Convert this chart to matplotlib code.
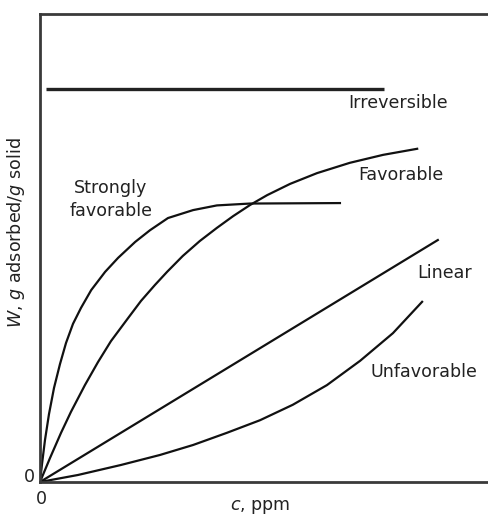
import matplotlib.pyplot as plt

# isotherm shapes, c in arbitrary ppm units, W in arbitrary loading units
irrev_c = [1.3, 76.6]
irrev_w = [84.0, 84.0]

strong_c = [0, 0.45, 1.11, 2.00, 3.12, 4.45, 5.79, 7.35, 9.13, 11.4, 14.5, 17.4,
            21.2, 24.5, 28.5, 34.1, 39.4, 46.8, 66.8]
strong_w = [0, 3.85, 8.97, 14.5, 20.1, 25.2, 29.7, 33.8, 37.2, 41.0, 44.9, 47.9,
            51.3, 53.8, 56.4, 58.1, 59.1, 59.5, 59.6]

fav_c = [0, 2.23, 4.68, 6.90, 10.0, 12.9, 15.8, 19.6, 22.5, 25.6, 28.3, 31.8,
         35.6, 39.4, 43.0, 46.8, 50.6, 55.7, 61.7, 69.0, 76.4, 84.0]
fav_w = [0, 5.13, 10.5, 15.0, 20.7, 25.6, 30.1, 35.0, 38.7, 42.1, 44.9, 48.3,
         51.5, 54.3, 56.8, 59.2, 61.3, 63.7, 66.0, 68.2, 69.9, 71.2]

lin_c = [0, 88.6]
lin_w = [0, 51.7]

unfav_c = [0, 8.46, 18.0, 26.7, 34.1, 41.6, 49.0, 56.3, 63.9, 71.3, 78.6, 85.1]
unfav_w = [0, 1.50, 3.63, 5.77, 7.91, 10.5, 13.2, 16.5, 20.7, 25.9, 31.8, 38.5]

plt.rcParams["font.family"] = "DejaVu Sans"

fig = plt.figure(figsize=(4.89, 5.18), dpi=100)
ax = fig.add_axes([40 / 489, 36 / 518, 449 / 489, 468 / 518])

ink = "#111111"
ax.plot(irrev_c, irrev_w, color="#222222", lw=2.4, solid_capstyle="butt")
ax.plot(strong_c, strong_w, color=ink, lw=1.6)
ax.plot(fav_c, fav_w, color=ink, lw=1.6)
ax.plot(lin_c, lin_w, color=ink, lw=1.6)
ax.plot(unfav_c, unfav_w, color=ink, lw=1.6)

fs = 12.6
txt = "#222222"
ax.text(68.6, 81.0, "Irreversible", fontsize=fs, ha="left", va="center", color=txt)
ax.text(70.8, 65.6, "Favorable", fontsize=fs, ha="left", va="center", color=txt)
ax.text(15.8, 60.3, "Strongly\nfavorable", fontsize=fs, ha="center", va="center",
        linespacing=1.35, color=txt)
ax.text(84.0, 44.7, "Linear", fontsize=fs, ha="left", va="center", color=txt)
ax.text(73.7, 23.5, "Unfavorable", fontsize=fs, ha="left", va="center", color=txt)

ax.text(-1.1, 0, "0", fontsize=fs, ha="right", va="baseline", color=txt)
ax.text(0.4, -1.7, "0", fontsize=fs, ha="center", va="top", color=txt)

ax.set_xlim(0, 100)
ax.set_ylim(0, 100)
ax.set_xticks([])
ax.set_yticks([])

ax.set_ylabel(r"$W$, $g$ adsorbed/$g$ solid", fontsize=fs, color=txt)
ax.yaxis.set_label_coords(-0.03, 0.532)
ax.set_xlabel(r"$c$, ppm", fontsize=fs, color=txt)
ax.xaxis.set_label_coords(0.49, -0.035)

ax.spines["right"].set_visible(False)
for side in ["left", "top", "bottom"]:
    ax.spines[side].set_linewidth(2.0)
    ax.spines[side].set_color("#3a3a3a")

fig.savefig("out.png", dpi=100)
